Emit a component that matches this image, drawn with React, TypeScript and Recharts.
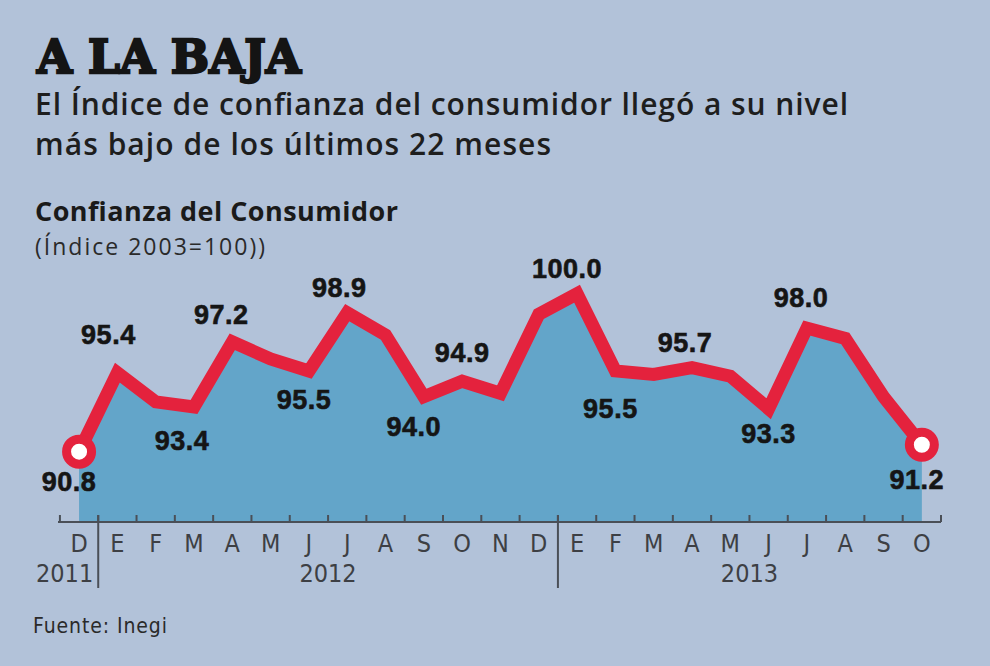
import React from 'react';
import { ComposedChart, Area, Line, XAxis, YAxis } from 'recharts';

// ---- data ----
const months = ['D', 'E', 'F', 'M', 'A', 'M', 'J', 'J', 'A', 'S', 'O', 'N', 'D', 'E', 'F', 'M', 'A', 'M', 'J', 'J', 'A', 'S', 'O'];
const values = [90.8, 95.4, 93.7, 93.4, 97.2, 96.2, 95.5, 98.9, 97.6, 94.0, 94.9, 94.2, 98.8, 100.0, 95.5, 95.3, 95.7, 95.2, 93.3, 98.0, 97.4, 94.0, 91.2];
const years = [
  { label: '2011', first: 0, last: 0 },
  { label: '2012', first: 1, last: 12 },
  { label: '2013', first: 13, last: 22 },
];
// which points carry a value label, and where the label sits relative to the point (dx, dy)
const labelOffsets: Record<number, [number, number]> = {
  0: [-10, 30], 1: [-9, -38], 3: [-12, 34], 4: [-11, -27], 6: [-5, 29], 7: [-8, -25],
  9: [-10, 30], 10: [0, -28], 13: [-10, -25], 14: [-5, 38], 16: [-7, -25], 18: [0, 25],
  19: [-6, -30], 22: [-5, 35],
};

const title = 'A LA BAJA';
const subtitle1 = 'El Índice de confianza del consumidor llegó a su nivel';
const subtitle2 = 'más bajo de los últimos 22 meses';
const chartTitle = 'Confianza del Consumidor';
const chartUnit = '(Índice 2003=100))';
const source = 'Fuente: Inegi';

const data = values.map((v, i) => ({ i, month: months[i], value: v }));

// ---- style ----
const BG = '#b2c2d9';
const FILL = '#63a5c9';
const RED = '#e4223d';
const AXIS = '#4a4f57';
const LABEL_FONT = 'DejaVu Sans Condensed, DejaVu Sans, sans-serif';
const Y_MIN = 86.7;
const Y_MAX = 101.5;
const X_MIN = -0.55;
const X_MAX = 22.5;

const ticks: number[] = [];
for (let k = 0; k <= months.length * 2; k++) ticks.push(k / 2 - 0.5);

const separators = years.slice(0, -1).map((y) => y.last + 0.5);

const AxisTick = (props: any) => {
  const { x, y, payload } = props;
  const v: number = payload.value;
  if (Number.isInteger(v)) {
    return (
      <text x={x} y={y + 30} textAnchor="middle" fontFamily={LABEL_FONT} fontSize={25} fill="#3d3f44">
        {months[v]}
      </text>
    );
  }
  const isSep = separators.includes(v);
  const els: any[] = [];
  els.push(<line key="t" x1={x} x2={x} y1={y} y2={y - 7} stroke={AXIS} strokeWidth={2} />);
  if (isSep) els.push(<line key="s" x1={x} x2={x} y1={y - 7} y2={y + 66} stroke={AXIS} strokeWidth={2} />);
  years.forEach((yr) => {
    if (yr.first === yr.last && yr.last + 0.5 === v) {
      els.push(
        <text key={yr.label} x={x - 5} y={y + 60} textAnchor="end" fontFamily={LABEL_FONT} fontSize={25} fill="#3d3f44">
          {yr.label}
        </text>
      );
    } else if (yr.first !== yr.last && (yr.first + yr.last) / 2 === v) {
      els.push(
        <text key={yr.label} x={x} y={y + 60} textAnchor="middle" fontFamily={LABEL_FONT} fontSize={25} fill="#3d3f44">
          {yr.label}
        </text>
      );
    }
  });
  return <g>{els}</g>;
};

const renderDot = (props: any) => {
  const { cx, cy, index, value } = props;
  const isEnd = index === 0 || index === values.length - 1;
  const off = labelOffsets[index];
  return (
    <g key={`d-${index}`}>
      {isEnd && <circle cx={cx} cy={cy} r={12.5} fill="#ffffff" stroke={RED} strokeWidth={9} />}
      {off && (
        <text
          x={cx + off[0]}
          y={cy + off[1]}
          textAnchor="middle"
          dominantBaseline="central"
          fontFamily="Liberation Sans, Arial, sans-serif"
          fontWeight={700}
          fontSize={27}
          letterSpacing={0.5}
          fill="#151515"
          stroke="#151515"
          strokeWidth={0.6}
        >
          {Number(Array.isArray(value) ? value[1] : value).toFixed(1)}
        </text>
      )}
    </g>
  );
};

export default function App() {
  return (
    <div style={{ position: 'absolute', left: 0, top: 0, width: 990, height: 666, background: BG, overflow: 'hidden' }}>
      <svg width={990} height={666} style={{ position: 'absolute', left: 0, top: 0 }}>
        <text x={37} y={73} fontFamily="DejaVu Serif, serif" fontWeight={700} fontSize={47} fill="#141414" stroke="#141414" strokeWidth={2.4} textLength={264} lengthAdjust="spacingAndGlyphs">{title}</text>
        <text x={35} y={115} fontFamily="Open Sans, sans-serif" fontWeight={600} fontSize={30} fill="#1e1e1e" textLength={813} lengthAdjust="spacing">{subtitle1}</text>
        <text x={35} y={155} fontFamily="Open Sans, sans-serif" fontWeight={600} fontSize={30} fill="#1e1e1e" textLength={516} lengthAdjust="spacing">{subtitle2}</text>
        <text x={35} y={221} fontFamily="Open Sans, sans-serif" fontWeight={700} fontSize={27} fill="#1a1a1a" textLength={363} lengthAdjust="spacing">{chartTitle}</text>
        <text x={35} y={255} fontFamily="Open Sans, sans-serif" fontWeight={500} fontSize={23} fill="#2a2a2a" textLength={230} lengthAdjust="spacing">{chartUnit}</text>
        <text x={33} y={633} fontFamily={LABEL_FONT} fontSize={21} fill="#2a2a2a" textLength={134} lengthAdjust="spacing">{source}</text>
      </svg>
      <div style={{ position: 'absolute', left: 0, top: 0 }}>
        <ComposedChart width={990} height={666} data={data} margin={{ top: 268, right: 49, bottom: 64, left: 58 }}>
          <XAxis
            dataKey="i"
            type="number"
            domain={[X_MIN, X_MAX]}
            ticks={ticks}
            interval={0}
            tick={<AxisTick />}
            tickLine={false}
            tickSize={0}
            tickMargin={0}
            height={80}
            axisLine={{ stroke: AXIS, strokeWidth: 2 }}
          />
          <YAxis type="number" domain={[Y_MIN, Y_MAX]} hide />
          <Area dataKey="value" type="linear" fill={FILL} fillOpacity={1} stroke="none" baseValue={Y_MIN} isAnimationActive={false} />
          <Line dataKey="value" type="linear" stroke={RED} strokeWidth={13} strokeLinejoin="miter" dot={renderDot} activeDot={false} isAnimationActive={false} />
        </ComposedChart>
      </div>
    </div>
  );
}
